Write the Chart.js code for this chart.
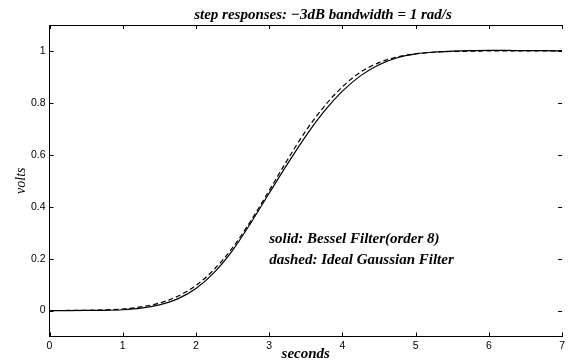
<!DOCTYPE html>
<html>
<head>
<meta charset="utf-8">
<script src="https://cdn.jsdelivr.net/npm/chart.js@4"></script>
<style>
  html, body { margin: 0; padding: 0; background: #fff; }
  #wrap { position: relative; width: 568px; height: 362px; }
</style>
</head>
<body>
<div id="wrap"><canvas id="c"></canvas></div>
<script>
// ---- data ----
const times = [0, 0.25, 0.5, 0.75, 1, 1.25, 1.5, 1.75, 2, 2.25, 2.5, 2.75, 3, 3.25, 3.5, 3.75, 4, 4.25, 4.5, 4.75, 5, 5.25, 5.5, 5.75, 6, 6.25, 6.5, 6.75, 7];
const besselValues = [0, 0, 0.0003, 0.001, 0.003, 0.009, 0.022, 0.045, 0.085, 0.147, 0.232, 0.338, 0.452, 0.565, 0.672, 0.767, 0.845, 0.905, 0.947, 0.974, 0.989, 0.996, 0.999, 1.001, 1.002, 1.002, 1.001, 1.001, 1.0];
const gaussianValues = [0, 0.0003, 0.001, 0.0025, 0.006, 0.014, 0.029, 0.055, 0.097, 0.159, 0.242, 0.346, 0.462, 0.581, 0.692, 0.786, 0.862, 0.919, 0.955, 0.977, 0.989, 0.995, 0.998, 0.999, 1.0, 1.0, 1.0, 1.0, 1.0];
const xTicks = [0, 1, 2, 3, 4, 5, 6, 7];
const yTicks = [0, 0.2, 0.4, 0.6, 0.8, 1];
const yTickLabels = ['0', '0.2', '0.4', '0.6', '0.8', '1'];
const titleText = 'step responses: \u22123dB bandwidth = 1 rad/s';
const xLabel = 'seconds';
const yLabel = 'volts';
const noteLines = ['solid: Bessel Filter(order 8)', 'dashed: Ideal Gaussian Filter'];
const notePos = [{x: 3.0, y: 0.275}, {x: 3.0, y: 0.195}];

const serifBI = 'italic bold 15px "Liberation Serif", "DejaVu Serif", serif';

const decorPlugin = {
  id: 'decor',
  afterDraw(chart) {
    const {ctx, chartArea: a, scales: {x, y}} = chart;
    ctx.save();
    ctx.strokeStyle = '#000';
    ctx.lineWidth = 1;
    // top border
    ctx.beginPath();
    ctx.moveTo(a.left, Math.round(a.top) + 0.5);
    ctx.lineTo(a.right, Math.round(a.top) + 0.5);
    ctx.stroke();
    // inward tick marks
    const tl = 4;
    ctx.beginPath();
    x.ticks.forEach(t => {
      const px = Math.round(x.getPixelForValue(t.value)) + 0.5;
      ctx.moveTo(px, a.bottom); ctx.lineTo(px, a.bottom - tl);
      ctx.moveTo(px, a.top); ctx.lineTo(px, a.top + tl);
    });
    y.ticks.forEach(t => {
      const py = Math.round(y.getPixelForValue(t.value)) + 0.5;
      ctx.moveTo(a.left, py); ctx.lineTo(a.left + tl, py);
      ctx.moveTo(a.right, py); ctx.lineTo(a.right - tl, py);
    });
    ctx.stroke();
    // title
    ctx.fillStyle = '#000';
    ctx.font = serifBI;
    ctx.textAlign = 'center';
    ctx.textBaseline = 'middle';
    ctx.fillText(titleText, 323, 15);
    // annotation text
    ctx.textAlign = 'left';
    noteLines.forEach((s, i) => {
      ctx.fillText(s, x.getPixelForValue(notePos[i].x), y.getPixelForValue(notePos[i].y));
    });
    ctx.restore();
  }
};

new Chart(document.getElementById('c'), {
  type: 'line',
  data: {
    datasets: [
      {
        label: 'Bessel',
        data: times.map((t, i) => ({x: t, y: besselValues[i]})),
        borderColor: '#000', borderWidth: 1.2, pointRadius: 0,
        cubicInterpolationMode: 'monotone', fill: false
      },
      {
        label: 'Gaussian',
        data: times.map((t, i) => ({x: t, y: gaussianValues[i]})),
        borderColor: '#000', borderWidth: 1.2, pointRadius: 0, borderDash: [5, 3],
        cubicInterpolationMode: 'monotone', fill: false
      }
    ]
  },
  options: {
    responsive: true,
    maintainAspectRatio: false,
    animation: false,
    layout: { padding: { top: 25, left: 0, right: -1, bottom: 0 } },
    plugins: { legend: { display: false }, tooltip: { enabled: false }, title: { display: false } },
    scales: {
      x: {
        type: 'linear', min: 0, max: 7,
        afterBuildTicks: s => { s.ticks = xTicks.map(v => ({value: v})); },
        afterFit: s => { s.height = 25.5; },
        grid: { display: false, drawTicks: false },
        border: { display: true, color: '#000', width: 1 },
        ticks: { color: '#000', padding: 3, maxRotation: 0, autoSkip: false,
          callback: v => String(v),
          font: { family: '"Liberation Sans", Arial, sans-serif', size: 10.5 } },
        title: { display: true, text: xLabel, color: '#000', padding: { top: 0, bottom: 0 },
          font: { family: '"Liberation Serif", serif', size: 15, style: 'italic', weight: 'bold', lineHeight: 1 } }
      },
      y: {
        type: 'linear', min: -0.1, max: 1.1,
        afterBuildTicks: s => { s.ticks = yTicks.map(v => ({value: v})); },
        afterFit: s => { s.width = 49.5; },
        grid: { display: false, drawTicks: false },
        border: { display: true, color: '#000', width: 1 },
        ticks: { color: '#000', padding: 4, autoSkip: false,
          callback: (v, i) => yTickLabels[i],
          font: { family: '"Liberation Sans", Arial, sans-serif', size: 10.5 } },
        title: { display: true, text: yLabel, color: '#000', padding: { top: 14, bottom: 0 },
          font: { family: '"Liberation Serif", serif', size: 14, style: 'italic', weight: 'normal', lineHeight: 1 } }
      }
    }
  },
  plugins: [decorPlugin]
});
</script>
</body>
</html>
